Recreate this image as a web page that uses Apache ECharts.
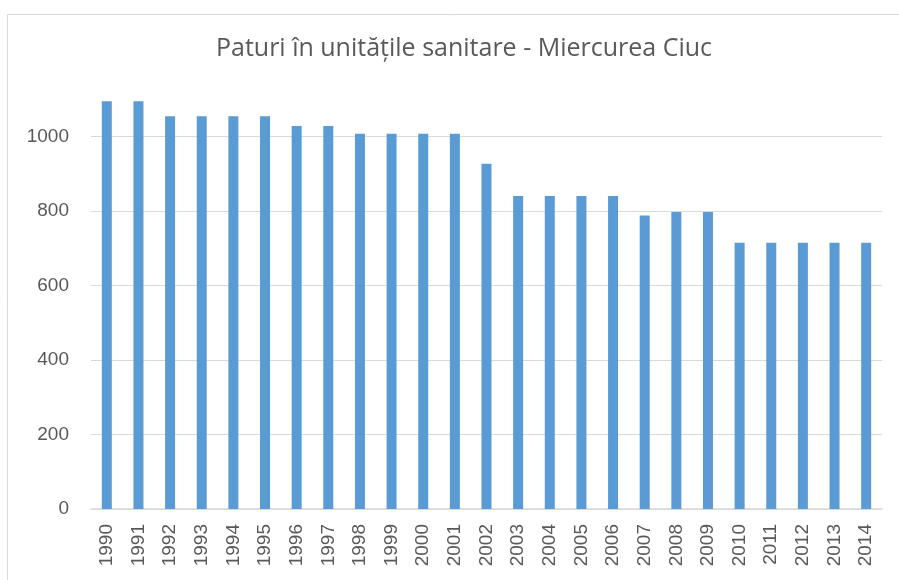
<!DOCTYPE html>
<html><head><meta charset="utf-8">
<script src="https://cdn.jsdelivr.net/npm/echarts@6/dist/echarts.min.js"></script>
<style>html,body{margin:0;padding:0;background:#fff}#c{width:899px;height:580px}</style>
</head><body><div id="c"></div>
<script>
var titleText = "Paturi în unitățile sanitare - Miercurea Ciuc";
var years = ["1990","1991","1992","1993","1994","1995","1996","1997","1998","1999","2000","2001","2002","2003","2004","2005","2006","2007","2008","2009","2010","2011","2012","2013","2014"];
var beds = [1095,1095,1055,1055,1055,1055,1029,1029,1008,1008,1008,1008,927,841,841,841,841,788,798,798,715,715,715,715,715];

var chart = echarts.init(document.getElementById('c'), null, {renderer:'canvas'});
chart.setOption({
  animation:false,
  backgroundColor:'#fff',
  graphic:[{type:'rect',left:5,top:12,shape:{width:1000,height:1000},style:{fill:'none',stroke:'#d9d9d9',lineWidth:1},z:-1}],
  title:{text:titleText,left:459,textAlign:'center',top:31,textStyle:{fontFamily:'Open Sans',fontWeight:'normal',fontSize:25,color:'#595959'}},
  grid:{left:91,right:17,top:92,bottom:71,containLabel:false},
  xAxis:{type:'category',data:years,
    axisLine:{lineStyle:{color:'#d9d9d9',width:1.5}},
    axisTick:{show:false},
    axisLabel:{rotate:90,margin:15,fontFamily:'Liberation Sans',fontSize:19,color:'#595959',interval:0}},
  yAxis:{type:'value',min:0,max:1120,interval:200,
    axisLine:{show:false},axisTick:{show:false},
    splitLine:{lineStyle:{color:'#d9d9d9',width:1},showMaxLine:false},
    axisLabel:{margin:22,fontFamily:'Liberation Sans',fontSize:19,color:'#595959',showMaxLabel:false,
      formatter:function(v){return v%200===0?String(v):'';}}},
  series:[{type:'bar',data:beds,barWidth:10,itemStyle:{color:'#5b9bd5'}}]
});
</script></body></html>
